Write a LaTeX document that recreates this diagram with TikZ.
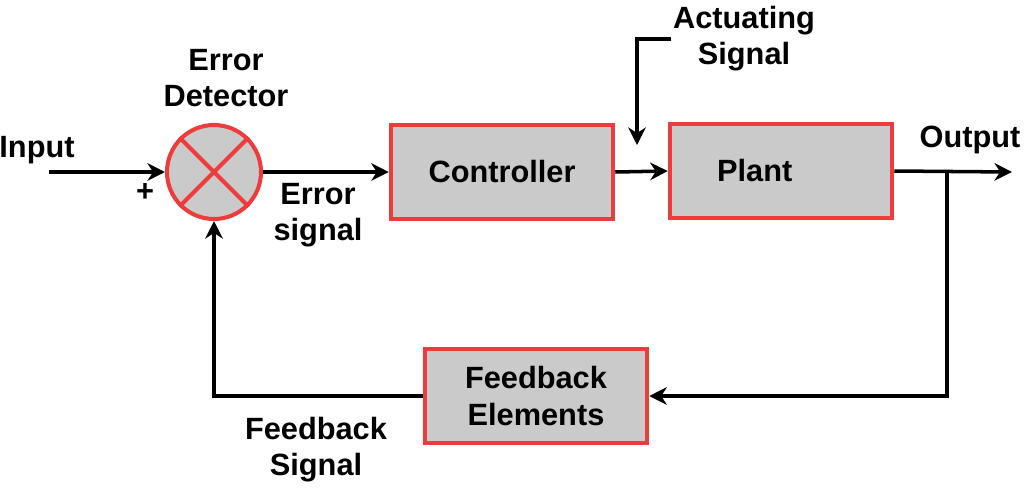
\documentclass[tikz,border=0pt]{standalone}
\usepackage{fontspec}
\setmainfont{Liberation Sans}
\usepackage{tikz}
\usetikzlibrary{arrows.meta,positioning,calc}
\usepackage{xcolor}
\definecolor{boxred}{HTML}{EE3B3B}
\definecolor{boxgray}{HTML}{CACACA}

\begin{document}
\begin{tikzpicture}[
    x=0.02cm, y=-0.02cm,
    >={Stealth[length=10pt,width=10pt]},
    block/.style={
      rectangle, draw=boxred, fill=boxgray, line width=2.3pt,
      minimum width=4.45cm, minimum height=1.88cm,
      align=center, font=\fontsize{17.5}{20.5}\selectfont\bfseries
    },
    sumnode/.style={
      circle, draw=boxred, fill=boxgray, line width=2.3pt,
      minimum size=1.88cm, inner sep=0pt
    },
    lbl/.style={
      align=center, inner sep=1pt,
      font=\fontsize{17.5}{20.5}\selectfont\bfseries
    },
    arr/.style={->, line width=2pt, black}
  ]

  \useasboundingbox (0,0) rectangle (1024,488);

  % Blocks
  \node[sumnode] (sum) at (214,172) {};
  \node[block] (ctrl) at (502,172) {Controller};
  \node[block] (plant) at (781,171) {\hspace*{-1.05cm}Plant};
  \node[block] (fb) at (536,396) {Feedback\\Elements};

  \draw[boxred, line width=2.3pt] (sum.north west) -- (sum.south east);
  \draw[boxred, line width=2.3pt] (sum.north east) -- (sum.south west);

  % Free ends
  \coordinate (in) at (49,172);
  \coordinate (out) at (1012,172);
  \coordinate (tap) at (947,172);
  \coordinate (actin) at (637,145);

  % Labels
  \node[lbl] (inlbl) at (37,150) {Input};
  \node[lbl] (plus) at (145,192) {+};
  \node[lbl] (det) at (226,78) {Error\\Detector};
  \node[lbl] (err) at (318,215) {Error\\signal};
  \node[lbl] (act) at (744,39) {Actuating\\Signal};
  \node[lbl] (outlbl) at (970,140) {Output};
  \node[lbl] (fbs) at (316,450) {Feedback\\Signal};

  % Arrows
  \draw[arr] (in) -- (sum.west);
  \draw[arr] (sum.east) -- (ctrl.west);
  \draw[arr] (ctrl.east) -- (plant.west);
  \draw[arr] (plant.east) -- (out);
  \draw[arr] (act.west) -| (actin);
  \draw[arr] (tap) |- (fb.east);
  \draw[arr] (fb.west) -| (sum.south);
\end{tikzpicture}
\end{document}
